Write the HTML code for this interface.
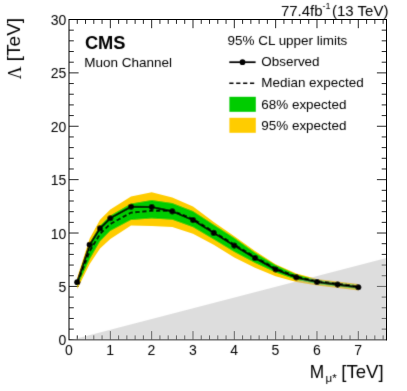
<!DOCTYPE html>
<html><head><meta charset="utf-8"><title>CMS limit plot</title>
<style>html,body{margin:0;padding:0;background:#fff;width:407px;height:391px;overflow:hidden}</style></head>
<body>
<svg width="407" height="391" viewBox="0 0 407 391" style="position:absolute;left:0;top:0">
<rect width="407" height="391" fill="#fff"/>
<defs><filter id="b" x="0" y="0" width="407" height="391" filterUnits="userSpaceOnUse"><feConvolveMatrix order="3" kernelMatrix="0.0121 0.0858 0.0121 0.0858 0.6084 0.0858 0.0121 0.0858 0.0121" divisor="1" edgeMode="duplicate" preserveAlpha="false"/></filter></defs>
<path d="M77.27,339.80v-4.4M77.27,19.50v4.4M85.53,339.80v-4.4M85.53,19.50v4.4M93.80,339.80v-4.4M93.80,19.50v4.4M102.06,339.80v-4.4M102.06,19.50v4.4M110.33,339.80v-8.7M110.33,19.50v8.7M118.60,339.80v-4.4M118.60,19.50v4.4M126.86,339.80v-4.4M126.86,19.50v4.4M135.13,339.80v-4.4M135.13,19.50v4.4M143.39,339.80v-4.4M143.39,19.50v4.4M151.66,339.80v-8.7M151.66,19.50v8.7M159.93,339.80v-4.4M159.93,19.50v4.4M168.19,339.80v-4.4M168.19,19.50v4.4M176.46,339.80v-4.4M176.46,19.50v4.4M184.72,339.80v-4.4M184.72,19.50v4.4M192.99,339.80v-8.7M192.99,19.50v8.7M201.26,339.80v-4.4M201.26,19.50v4.4M209.52,339.80v-4.4M209.52,19.50v4.4M217.79,339.80v-4.4M217.79,19.50v4.4M226.05,339.80v-4.4M226.05,19.50v4.4M234.32,339.80v-8.7M234.32,19.50v8.7M242.59,339.80v-4.4M242.59,19.50v4.4M250.85,339.80v-4.4M250.85,19.50v4.4M259.12,339.80v-4.4M259.12,19.50v4.4M267.38,339.80v-4.4M267.38,19.50v4.4M275.65,339.80v-8.7M275.65,19.50v8.7M283.92,339.80v-4.4M283.92,19.50v4.4M292.18,339.80v-4.4M292.18,19.50v4.4M300.45,339.80v-4.4M300.45,19.50v4.4M308.71,339.80v-4.4M308.71,19.50v4.4M316.98,339.80v-8.7M316.98,19.50v8.7M325.25,339.80v-4.4M325.25,19.50v4.4M333.51,339.80v-4.4M333.51,19.50v4.4M341.78,339.80v-4.4M341.78,19.50v4.4M350.04,339.80v-4.4M350.04,19.50v4.4M358.31,339.80v-8.7M358.31,19.50v8.7M366.58,339.80v-4.4M366.58,19.50v4.4M374.84,339.80v-4.4M374.84,19.50v4.4M383.11,339.80v-4.4M383.11,19.50v4.4M69.00,329.12h4.8M386.50,329.12h-4.8M69.00,318.45h4.8M386.50,318.45h-4.8M69.00,307.77h4.8M386.50,307.77h-4.8M69.00,297.09h4.8M386.50,297.09h-4.8M69.00,286.42h9.6M386.50,286.42h-9.6M69.00,275.74h4.8M386.50,275.74h-4.8M69.00,265.06h4.8M386.50,265.06h-4.8M69.00,254.38h4.8M386.50,254.38h-4.8M69.00,243.71h4.8M386.50,243.71h-4.8M69.00,233.03h9.6M386.50,233.03h-9.6M69.00,222.35h4.8M386.50,222.35h-4.8M69.00,211.68h4.8M386.50,211.68h-4.8M69.00,201.00h4.8M386.50,201.00h-4.8M69.00,190.32h4.8M386.50,190.32h-4.8M69.00,179.65h9.6M386.50,179.65h-9.6M69.00,168.97h4.8M386.50,168.97h-4.8M69.00,158.29h4.8M386.50,158.29h-4.8M69.00,147.61h4.8M386.50,147.61h-4.8M69.00,136.94h4.8M386.50,136.94h-4.8M69.00,126.26h9.6M386.50,126.26h-9.6M69.00,115.58h4.8M386.50,115.58h-4.8M69.00,104.91h4.8M386.50,104.91h-4.8M69.00,94.23h4.8M386.50,94.23h-4.8M69.00,83.55h4.8M386.50,83.55h-4.8M69.00,72.88h9.6M386.50,72.88h-9.6M69.00,62.20h4.8M386.50,62.20h-4.8M69.00,51.52h4.8M386.50,51.52h-4.8M69.00,40.84h4.8M386.50,40.84h-4.8M69.00,30.17h4.8M386.50,30.17h-4.8" stroke="#000" stroke-width="0.85" fill="none"/>
<rect x="69.00" y="19.50" width="317.50" height="320.30" fill="none" stroke="#000" stroke-width="1"/>
<g filter="url(#b)">
<polygon points="77.3,277.2 89.7,238.6 100.0,219.8 110.3,209.6 131.0,196.5 151.7,192.2 172.3,197.6 193.0,206.6 213.7,222.0 234.3,236.3 255.0,251.1 275.6,264.2 296.3,273.5 317.0,278.9 337.6,281.6 358.3,284.1 358.3,290.4 337.6,288.0 317.0,285.4 296.3,281.9 275.6,276.2 255.0,267.8 234.3,257.4 213.7,244.8 193.0,233.8 172.3,227.0 151.7,226.0 131.0,225.6 110.3,239.0 100.0,248.5 89.7,264.0 77.3,289.1" fill="#ffcc00"/>
<polygon points="77.3,279.9 89.7,242.6 100.0,225.5 110.3,215.4 131.0,203.4 151.7,199.9 172.3,203.0 193.0,211.0 213.7,224.4 234.3,237.8 255.0,252.6 275.6,265.0 296.3,274.6 317.0,280.0 337.6,282.7 358.3,285.2 358.3,289.0 337.6,286.5 317.0,284.0 296.3,279.8 275.6,272.6 255.0,262.9 234.3,252.1 213.7,239.4 193.0,227.2 172.3,219.7 151.7,218.5 131.0,220.0 110.3,231.0 100.0,241.6 89.7,259.5 77.3,286.3" fill="#00cc00"/>
<polygon points="69.0,340.4 386.5,258.1 386.5,340.4" fill="#b4b4b4" fill-opacity="0.45"/>
<polyline points="77.3,283.1 89.7,251.3 100.0,234.0 110.3,224.0 131.0,212.6 151.7,210.8 172.3,210.8 193.0,218.9 213.7,231.8 234.3,244.5 255.0,256.9 275.6,268.4 296.3,276.5 317.0,281.2 337.6,283.8 358.3,286.4" fill="none" stroke="#000" stroke-width="1.95" stroke-dasharray="4.3,2.6"/>
<polyline points="77.3,282.2 89.7,244.8 100.0,228.4 110.3,218.2 131.0,206.8 151.7,207.0 172.3,211.4 193.0,220.1 213.7,232.9 234.3,245.6 255.0,258.0 275.6,269.5 296.3,277.4 317.0,282.0 337.6,284.6 358.3,287.2" fill="none" stroke="#000" stroke-width="2.1" stroke-linejoin="round"/>
<circle cx="77.3" cy="282.2" r="3.05" fill="#000"/>
<circle cx="89.7" cy="244.8" r="3.05" fill="#000"/>
<circle cx="100.0" cy="228.4" r="3.05" fill="#000"/>
<circle cx="110.3" cy="218.2" r="3.05" fill="#000"/>
<circle cx="131.0" cy="206.8" r="3.05" fill="#000"/>
<circle cx="151.7" cy="207.0" r="3.05" fill="#000"/>
<circle cx="172.3" cy="211.4" r="3.05" fill="#000"/>
<circle cx="193.0" cy="220.1" r="3.05" fill="#000"/>
<circle cx="213.7" cy="232.9" r="3.05" fill="#000"/>
<circle cx="234.3" cy="245.6" r="3.05" fill="#000"/>
<circle cx="255.0" cy="258.0" r="3.05" fill="#000"/>
<circle cx="275.6" cy="269.5" r="3.05" fill="#000"/>
<circle cx="296.3" cy="277.4" r="3.05" fill="#000"/>
<circle cx="317.0" cy="282.0" r="3.05" fill="#000"/>
<circle cx="337.6" cy="284.6" r="3.05" fill="#000"/>
<circle cx="358.3" cy="287.2" r="3.05" fill="#000"/>
</g>
<line x1="386.50" x2="386.50" y1="257.59" y2="340.30" stroke="#000" stroke-width="1"/>
<g filter="url(#b)">
<g font-family="Liberation Sans, sans-serif" font-size="14" fill="#000">
<text x="68.8" y="355" text-anchor="middle">0</text>
<text x="110.1" y="355" text-anchor="middle">1</text>
<text x="151.5" y="355" text-anchor="middle">2</text>
<text x="192.8" y="355" text-anchor="middle">3</text>
<text x="234.1" y="355" text-anchor="middle">4</text>
<text x="275.4" y="355" text-anchor="middle">5</text>
<text x="316.8" y="355" text-anchor="middle">6</text>
<text x="358.1" y="355" text-anchor="middle">7</text>
<text x="66.4" y="345.3" text-anchor="end">0</text>
<text x="66.4" y="291.9" text-anchor="end">5</text>
<text x="66.4" y="238.5" text-anchor="end">10</text>
<text x="66.4" y="185.1" text-anchor="end">15</text>
<text x="66.4" y="131.8" text-anchor="end">20</text>
<text x="66.4" y="78.4" text-anchor="end">25</text>
<text x="66.4" y="25.0" text-anchor="end">30</text>
</g>
<g font-family="Liberation Sans, sans-serif" fill="#000">
<text x="280.9" y="15.5" font-size="15">77.4fb<tspan dy="-7" font-size="9">-1</tspan><tspan dy="7" dx="-2.8" font-size="15"> (13 TeV)</tspan></text>
<text x="84.9" y="48.6" font-size="18.3" font-weight="bold">CMS</text>
<text x="84.2" y="67" font-size="13.5">Muon Channel</text>
<text x="227.6" y="45" font-size="13.45">95% CL upper limits</text>
<text x="261.3" y="66.1" font-size="13.45">Observed</text>
<text x="261.3" y="87.1" font-size="13.45">Median expected</text>
<text x="261.3" y="108.5" font-size="13.45">68% expected</text>
<text x="261.3" y="129.5" font-size="13.45">95% expected</text>
<text transform="translate(309.7,377.9) scale(0.93,1)" font-size="18.6">M</text>
<text x="325.6" y="381.6" font-size="11.6">μ*</text>
<text x="341.3" y="377.9" font-size="18.6">[TeV]</text>
<text transform="translate(20.3,61.2) rotate(-90)" font-size="19">[TeV]</text>
<text transform="translate(20.9,79.2) rotate(-90)" font-family="Liberation Serif, serif" font-size="17.8">Λ</text>
</g>
<line x1="229.3" x2="255.6" y1="62.2" y2="62.2" stroke="#000" stroke-width="1.75"/><circle cx="242.5" cy="62.2" r="2.85"/>
<line x1="229.3" x2="255.6" y1="83.2" y2="83.2" stroke="#000" stroke-width="1.5" stroke-dasharray="4.2,2.7"/>
<rect x="229.4" y="96.8" width="26.4" height="15" fill="#00cc00"/>
<rect x="229.4" y="117.8" width="26.4" height="15" fill="#ffcc00"/>
</g>
</svg>
</body></html>
